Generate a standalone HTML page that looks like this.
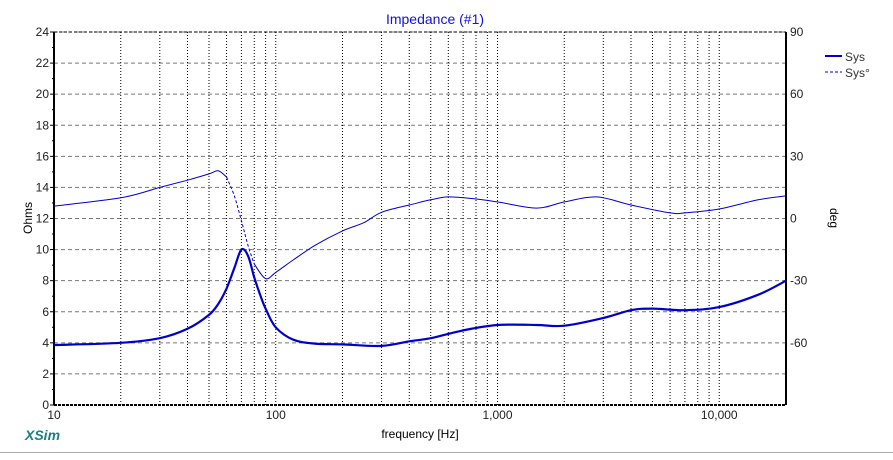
<!DOCTYPE html>
<html><head><meta charset="utf-8"><style>
body{margin:0;background:#fff;width:893px;height:455px;overflow:hidden;font-family:"Liberation Sans",sans-serif}
</style></head><body>
<svg id="chart" width="893" height="455" font-family="Liberation Sans, sans-serif">
<text x="435" y="24" font-size="14" fill="#1010e0" text-anchor="middle">Impedance (#1)</text>
<g id="grid"></g><g id="axes"></g><g id="series"></g>
<text x="32" y="218" font-size="12" text-anchor="middle" transform="rotate(-90 32 218)">Ohms</text>
<text x="830" y="218" font-size="12" text-anchor="middle" transform="rotate(90 830 218)">deg</text>
<text x="420" y="438" font-size="12" text-anchor="middle">frequency [Hz]</text>
<text x="25" y="440" font-size="14" font-weight="bold" font-style="italic" fill="#1a8080">XSim</text>
<line x1="0" y1="452.5" x2="893" y2="452.5" stroke="#aaa"/>
<g><line x1="825" y1="56" x2="842" y2="56" stroke="#0000cc" stroke-width="2"/><text x="845" y="61" font-size="12" fill="#333">Sys</text></g>
<g><line x1="825" y1="72" x2="842" y2="72" stroke="#0000cc" stroke-dasharray="3,2"/><text x="845" y="77" font-size="12" fill="#333">Sys°</text></g>
</svg>
<script>
const freqs=[10,20,30,40,50,55,60,65,70,75,80,85,90,100,120,150,200,300,400,500,700,1000,1500,2000,3000,4000,5000,7000,10000,15000,20000];
const ohms=[3.86,4.0,4.3,4.9,5.8,6.5,7.5,8.8,10.0,9.6,8.2,7.1,6.2,5.0,4.2,3.95,3.9,3.8,4.1,4.3,4.8,5.15,5.15,5.1,5.6,6.1,6.2,6.1,6.3,7.1,8.0];
const phaseFreqs=[10,20,30,40,50,55,60,65,70,75,80,90,100,120,150,200,250,300,400,500,600,800,1000,1500,2000,2800,4000,6000,7000,10000,15000,20000];
const phase=[6,10,15,18.5,21.5,23,20,11,-1,-13,-22,-29,-26,-20,-13,-6,-2,3,6.5,9,10.4,9.4,8,5,8,10.4,6.5,2.7,2.7,4.6,9,10.9];
const yTicks=[0,2,4,6,8,10,12,14,16,18,20,22,24];
const y2Ticks=[-60,-30,0,30,60,90];
const xLabels=[[10,"10"],[100,"100"],[1000,"1,000"],[10000,"10,000"]];
const L=54,R=786,T=32,B=405;
const xs=f=>L+(Math.log10(f)-1)/Math.log10(2000)*(R-L);
const ys=v=>B-v/24*(B-T);
const yp=v=>B-(v+90)/180*(B-T);
const NS="http://www.w3.org/2000/svg";
function mk(p,t,a){const e=document.createElementNS(NS,t);for(const k in a)e.setAttribute(k,a[k]);p.appendChild(e);return e;}
const g=document.getElementById('grid'),ax=document.getElementById('axes'),s=document.getElementById('series');
yTicks.forEach(v=>{const y=ys(v);
 if(v>0){const l=mk(g,'line',{x1:L,x2:R,y1:y,y2:y,stroke:'#777','stroke-dasharray':'4,3'});
 
 }
 const t=mk(ax,'text',{x:L-5,y:y+4,'font-size':12,'text-anchor':'end',fill:'#222'});t.textContent=v;
 
 
 mk(ax,'line',{x1:L-4,x2:L,y1:y,y2:y,stroke:'#000'});
 if(v<24)mk(ax,'line',{x1:L-2,x2:L,y1:ys(v+1),y2:ys(v+1),stroke:'#000'});
});
y2Ticks.forEach(v=>{const y=yp(v);
 const t=mk(ax,'text',{x:R+4,y:y+4,'font-size':12,fill:'#222'});t.textContent=v;
 
 
});
for(let d=10;d<=10000;d*=10)for(let m=1;m<10;m++){const f=d*m;if(f>20000||f==10)continue;const x=xs(f);
 const l=mk(g,'line',{x1:x,x2:x,y1:T,y2:B,stroke:'#000','stroke-dasharray':'1,2'});
 
 }
xLabels.forEach(([f,s2])=>{const t=mk(ax,'text',{x:xs(f),y:B+14,'font-size':12,'text-anchor':'middle',fill:'#222'});t.textContent=s2;
 
 });
mk(ax,'line',{x1:L,x2:R,y1:T,y2:T,stroke:'#000','stroke-dasharray':'3,2'});
mk(ax,'line',{x1:L,x2:R,y1:B,y2:B,stroke:'#000','stroke-width':2,'stroke-dasharray':'3,1'});
mk(ax,'line',{x1:L,x2:L,y1:T,y2:B,stroke:'#000','stroke-width':2});
mk(ax,'line',{x1:R,x2:R,y1:T,y2:B,stroke:'#000','stroke-width':2});
function smooth(P){
 let d='M'+P[0][0].toFixed(1)+','+P[0][1].toFixed(1);
 for(let i=0;i<P.length-1;i++){
  const p0=P[Math.max(0,i-1)],p1=P[i],p2=P[i+1],p3=P[Math.min(P.length-1,i+2)];
  const c1=[p1[0]+(p2[0]-p0[0])/6,p1[1]+(p2[1]-p0[1])/6];
  const c2=[p2[0]-(p3[0]-p1[0])/6,p2[1]-(p3[1]-p1[1])/6];
  d+=' C'+c1.map(v=>v.toFixed(1)).join(',')+' '+c2.map(v=>v.toFixed(1)).join(',')+' '+p2[0].toFixed(1)+','+p2[1].toFixed(1);
 }
 return d;
}
const ph1=[],ph2=[],ph3=[];
phaseFreqs.forEach((f,i)=>{if(f<=60)ph1.push(i);if(f>=60&&f<=80)ph2.push(i);if(f>=80)ph3.push(i);});
[[ph1,''],[ph2,'3,2'],[ph3,'']].forEach(([idx,da])=>{
 const p=mk(s,'path',{d:smooth(idx.map(i=>[xs(phaseFreqs[i]),yp(phase[i])])),fill:'none',stroke:'#0000cc','stroke-width':1,'stroke-dasharray':da});
 
 
});
const imp=mk(s,'path',{d:smooth(freqs.map((f,i)=>[xs(f),ys(ohms[i])])),fill:'none',stroke:'#0000cc','stroke-width':2.2,'stroke-linejoin':'round'});


</script>
</body></html>
